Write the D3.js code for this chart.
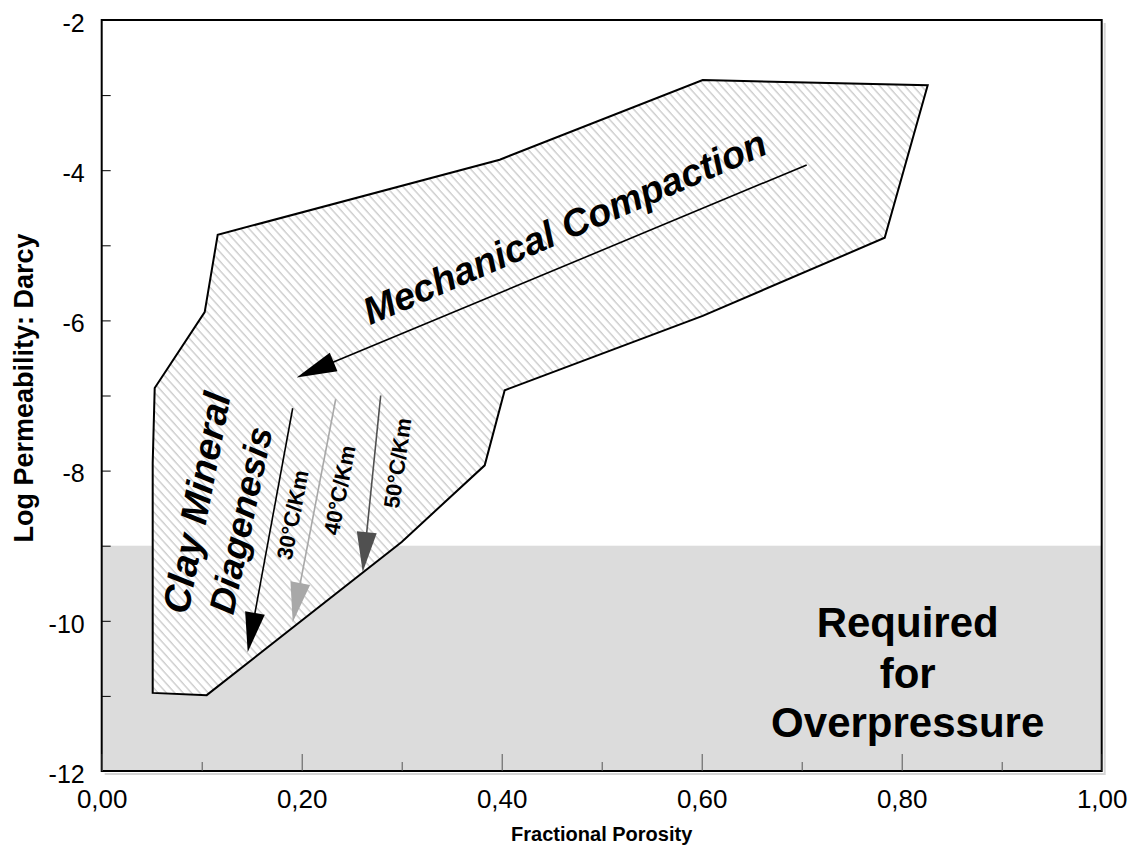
<!DOCTYPE html>
<html>
<head>
<meta charset="utf-8">
<script src="https://cdn.jsdelivr.net/npm/d3@7/dist/d3.min.js"></script>
<style>
  html, body { margin: 0; padding: 0; background: #fff; }
  svg { display: block; font-family: "Liberation Sans", Arial, sans-serif; }
</style>
</head>
<body>
<svg id="chart" width="1131" height="847"></svg>
<script>
// Porosity / permeability envelope for shales
const envelopePorosity = [0.051, 0.051, 0.053, 0.103, 0.116, 0.398, 0.601, 0.826, 0.783, 0.601, 0.403, 0.383, 0.300, 0.105];
const envelopeLogK     = [-10.96, -7.90, -6.90, -5.89, -4.86, -3.86, -2.80, -2.87, -4.90, -5.94, -6.93, -7.93, -8.95, -10.99];

// Threshold below which permeability supports overpressure
const overpressureLogK = -9;

// Compaction trend arrow (start, tip)
const compactionPorosity = [0.705, 0.195];
const compactionLogK     = [-3.93, -6.76];

// Clay diagenesis arrows by geothermal gradient
const gradientLabels   = ["30°C/Km", "40°C/Km", "50°C/Km"];
const gradientColors   = ["#000000", "#a8a8a8", "#505050"];
const gradStartPor     = [0.191, 0.234, 0.279];
const gradStartLogK    = [-7.17, -7.05, -7.00];
const gradTipPor       = [0.146, 0.191, 0.261];
const gradTipLogK      = [-10.42, -10.02, -9.35];
const gradLabelPor     = [0.191, 0.238, 0.296];
const gradLabelLogK    = [-8.59, -8.26, -7.90];
const gradLabelAngle   = [-79, -79, -82];

// Axis ticks
const xMajorTicks = [0, 0.2, 0.4, 0.6, 0.8, 1.0];
const xMinorTicks = [0.1, 0.3, 0.5, 0.7, 0.9];
const yMajorTicks = [-12, -10, -8, -6, -4, -2];
const yMinorTicks = [-11, -9, -7, -5, -3];

const svg = d3.select("#chart");

const x = d3.scaleLinear().domain([0, 1]).range([101.7, 1101.7]);
const y = d3.scaleLinear().domain([-12, -2]).range([771, 20]);

const defs = svg.append("defs");
const hatch = defs.append("pattern")
  .attr("id", "hatch")
  .attr("patternUnits", "userSpaceOnUse")
  .attr("width", 6.2).attr("height", 20)
  .attr("patternTransform", "rotate(-42)");
hatch.append("rect").attr("width", 6.2).attr("height", 20).attr("fill", "#fff");
hatch.append("line")
  .attr("x1", 1).attr("y1", 0).attr("x2", 1).attr("y2", 20)
  .attr("stroke", "#b0b0b0").attr("stroke-width", 0.9);

const plot = svg.append("g");

// Overpressure band
plot.append("rect")
  .attr("x", x(0)).attr("y", y(overpressureLogK))
  .attr("width", x(1) - x(0)).attr("height", y(-12) - y(overpressureLogK))
  .attr("fill", "#dcdcdc");

// Envelope
const envelope = envelopePorosity.map((p, i) => [x(p), y(envelopeLogK[i])]);
plot.append("path")
  .attr("d", d3.line()(envelope) + "Z")
  .attr("fill", "url(#hatch)")
  .attr("stroke", "#000").attr("stroke-width", 2)
  .attr("stroke-linejoin", "miter");

// Arrow helper: shaft plus filled head
function arrow(x0, y0, x1, y1, color) {
  const dx = x1 - x0, dy = y1 - y0, len = Math.hypot(dx, dy);
  const ux = dx / len, uy = dy / len;
  const headLen = 40, headHalf = 10;
  const bx = x1 - ux * headLen, by = y1 - uy * headLen;
  plot.append("line")
    .attr("x1", x0).attr("y1", y0).attr("x2", bx + ux * 2).attr("y2", by + uy * 2)
    .attr("stroke", color).attr("stroke-width", 1.6);
  plot.append("path")
    .attr("d", d3.line()([[x1, y1], [bx - uy * headHalf, by + ux * headHalf], [bx + uy * headHalf, by - ux * headHalf]]) + "Z")
    .attr("fill", color);
}

arrow(x(compactionPorosity[0]), y(compactionLogK[0]), x(compactionPorosity[1]), y(compactionLogK[1]), "#000");
gradientLabels.forEach((lab, i) => {
  arrow(x(gradStartPor[i]), y(gradStartLogK[i]), x(gradTipPor[i]), y(gradTipLogK[i]), gradientColors[i]);
  plot.append("text")
    .attr("transform", `translate(${x(gradLabelPor[i])},${y(gradLabelLogK[i])}) rotate(${gradLabelAngle[i]})`)
    .attr("text-anchor", "middle").attr("dominant-baseline", "central")
    .attr("font-size", 22).attr("font-weight", "bold")
    .text(lab);
});

// Process labels
plot.append("text")
  .attr("transform", `translate(${x(0.463)},${y(-4.76)}) rotate(-23.3)`)
  .attr("text-anchor", "middle").attr("dominant-baseline", "central")
  .attr("font-size", 38).attr("font-weight", "bold").attr("font-style", "italic")
  .text("Mechanical Compaction");

plot.append("text")
  .attr("transform", `translate(${x(0.095)},${y(-8.43)}) rotate(-79)`)
  .attr("text-anchor", "middle").attr("dominant-baseline", "central")
  .attr("font-size", 38).attr("font-weight", "bold").attr("font-style", "italic")
  .text("Clay Mineral");
plot.append("text")
  .attr("transform", `translate(${x(0.139)},${y(-8.66)}) rotate(-78)`)
  .attr("text-anchor", "middle").attr("dominant-baseline", "central")
  .attr("font-size", 36).attr("font-weight", "bold").attr("font-style", "italic")
  .text("Diagenesis");

// Overpressure label
const opLines = ["Required", "for", "Overpressure"];
const opLogK = [-10.02, -10.70, -11.36];
opLines.forEach((t, i) => {
  plot.append("text")
    .attr("x", x(0.806)).attr("y", y(opLogK[i]))
    .attr("text-anchor", "middle").attr("dominant-baseline", "central")
    .attr("font-size", 42).attr("font-weight", "bold")
    .text(t);
});

// Frame with faint shadow
svg.append("path")
  .attr("d", `M${x(1) + 3},${y(-2) + 3}V${y(-12) + 3}H${x(0) + 3}`)
  .attr("fill", "none").attr("stroke", "#d4d4d4").attr("stroke-width", 2);
svg.append("rect")
  .attr("x", x(0)).attr("y", y(-2))
  .attr("width", x(1) - x(0)).attr("height", y(-12) - y(-2))
  .attr("fill", "none").attr("stroke", "#000").attr("stroke-width", 2);

// X axis: ticks point into the plot
const fmtX = v => d3.format(".2f")(v).replace(".", ",");
const xAxis = svg.append("g").attr("transform", `translate(0,${y(-12)})`)
  .call(d3.axisBottom(x).tickValues(xMajorTicks).tickSizeInner(-17).tickSizeOuter(0).tickPadding(19).tickFormat(fmtX));
svg.append("g").attr("transform", `translate(0,${y(-12)})`)
  .call(d3.axisBottom(x).tickValues(xMinorTicks).tickSizeInner(-9).tickSizeOuter(0).tickFormat(""))
  .call(g => g.select(".domain").remove())
  .selectAll("line").attr("stroke", "#555");
xAxis.select(".domain").remove();
xAxis.selectAll(".tick line").attr("stroke", "#555");
xAxis.selectAll("text").attr("font-size", 26).attr("font-family", "Liberation Sans, Arial, sans-serif").attr("fill", "#000");

// Y axis
const yAxis = svg.append("g").attr("transform", `translate(${x(0)},0)`)
  .call(d3.axisLeft(y).tickValues(yMajorTicks).tickSizeInner(-9).tickSizeOuter(0).tickPadding(17).tickFormat(d3.format("d")));
svg.append("g").attr("transform", `translate(${x(0)},0)`)
  .call(d3.axisLeft(y).tickValues(yMinorTicks).tickSizeInner(-9).tickSizeOuter(0).tickFormat(""))
  .call(g => g.select(".domain").remove())
  .selectAll("line").attr("stroke", "#000");
yAxis.select(".domain").remove();
yAxis.selectAll(".tick line").attr("stroke", "#000");
yAxis.selectAll("text").attr("font-size", 25).attr("font-family", "Liberation Sans, Arial, sans-serif")
  .attr("fill", "#000").attr("dy", "0.45em")
  .text(d => String(d).replace("\u2212", "-"));

// Axis titles
svg.append("text")
  .attr("x", x(0.5)).attr("y", 834)
  .attr("text-anchor", "middle").attr("dominant-baseline", "central")
  .attr("font-size", 20).attr("font-weight", "bold")
  .text("Fractional Porosity");
svg.append("text")
  .attr("transform", `translate(24,388) rotate(-90)`)
  .attr("text-anchor", "middle").attr("dominant-baseline", "central")
  .attr("font-size", 27).attr("font-weight", "bold")
  .text("Log Permeability: Darcy");
</script>
</body>
</html>
